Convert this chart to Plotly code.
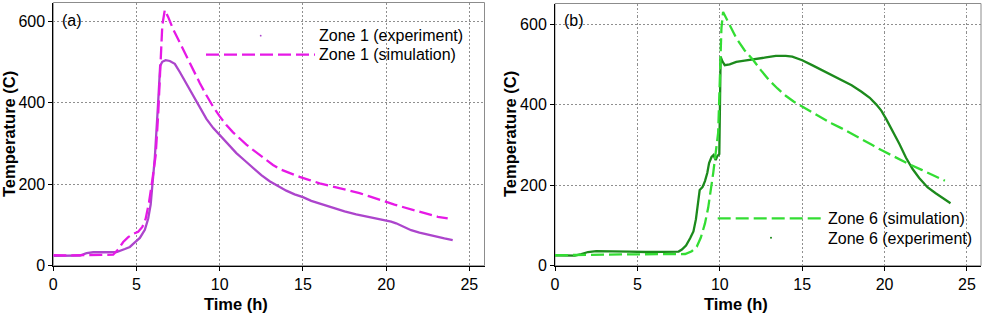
import plotly.graph_objects as go

W, H = 985, 314

# ---------------- data ----------------
# Panel (a): Zone 1
z1_exp_t = [0, 0.8, 1.6, 2.0, 2.4, 3.0, 3.8, 4.3, 4.6, 4.9, 5.2, 5.5, 5.7, 5.85, 6.0, 6.1,
            6.3, 6.42, 6.55, 6.75, 7.0, 7.3, 7.6, 8.0, 8.4, 8.8, 9.2, 9.6, 10.0, 10.5, 11.0,
            11.5, 12.0, 12.5, 13.0, 13.5, 14.0, 14.5, 15.0, 15.5, 16.0, 16.8, 17.5, 18.2,
            18.8, 19.3, 19.8, 20.3, 20.6, 21.0, 21.5, 22.0, 22.5, 23.0, 23.5, 24.0]
z1_exp_T = [24, 24, 25, 31, 33, 33, 33.5, 41, 46, 57, 68, 88, 115, 150, 215, 265,
            400, 490, 500, 504, 502, 495, 475, 447, 418, 388, 360, 338, 320, 297, 276,
            258, 240, 222, 207, 195, 184, 175, 168, 159, 152, 141, 133, 126,
            121, 116, 112, 108, 104, 96, 87, 81, 76, 71, 67, 63]

z1_sim_t = [0, 1.0, 2.0, 3.0, 3.6, 3.9, 4.2, 4.5, 4.8, 5.1, 5.35, 5.55, 5.75, 5.95, 6.15,
            6.3, 6.42, 6.55, 6.7, 6.9, 7.2, 7.6, 8.0, 8.4, 8.8, 9.2, 9.6, 10.0, 10.4, 10.8,
            11.2, 11.6, 12.0, 12.4, 12.8, 13.2, 13.6, 14.2, 14.8, 15.4, 16.0, 16.6, 17.2,
            17.8, 18.4, 19.0, 19.5, 20.0, 20.5, 21.0, 21.5, 22.0, 22.6, 23.1, 23.7]
z1_sim_T = [26, 25, 26, 26, 27, 40, 58, 70, 78, 83, 95, 115, 155, 210, 270,
            370, 490, 590, 627, 610, 580, 546, 513, 480, 448, 418, 390, 366, 345, 327,
            311, 297, 284, 271, 259, 247, 237, 227, 218, 210, 202, 196, 190,
            184, 178, 170, 163, 157, 150, 144, 138, 132, 125, 120, 116]

# Panel (b): Zone 6
z6_exp_t = [0, 0.6, 1.2, 1.6, 2.0, 2.5, 3.5, 4.5, 5.5, 6.5, 7.5, 7.7, 7.95, 8.2, 8.4, 8.55,
            8.68, 8.78, 8.95, 9.1, 9.24, 9.35, 9.5, 9.62, 9.75, 9.85, 9.97, 10.02, 10.05,
            10.15, 10.3, 10.6, 11.0, 11.5, 12.1, 12.8, 13.4, 14.0, 14.4, 15.0, 15.6, 16.2,
            16.8, 17.4, 18.0, 18.6, 19.1, 19.5, 19.8, 20.1, 20.5, 20.9, 21.3, 21.7, 22.1,
            22.6, 23.1, 23.5, 24.0]
z6_exp_T = [26, 25, 25, 29, 34, 36, 36, 35, 34, 34, 35, 40, 50, 68, 85, 115,
            160, 188, 195, 210, 230, 255, 270, 275, 262, 272, 277, 420, 519,
            508, 498, 500, 506, 509, 512, 517, 521, 521, 519, 510, 498, 485,
            473, 461, 448, 432, 417, 400, 385, 364, 334, 302, 268, 240, 218,
            195, 180, 168, 155]

z6_sim_t = [0, 1.0, 2.0, 4.0, 6.0, 7.9, 8.3, 8.6, 8.85, 9.1, 9.3, 9.45, 9.6, 9.75, 9.9,
            10.0, 10.1, 10.2, 10.5, 11.0, 11.5, 12.0, 12.5, 13.0, 13.5, 14.0, 14.5, 15.0,
            15.6, 16.2, 16.8, 17.4, 18.0, 18.6, 19.2, 19.8, 20.4, 21.0, 21.6, 22.25, 22.9,
            23.66]
z6_sim_T = [26, 26, 27, 28, 28, 29, 36, 47, 70, 105, 145, 185, 230, 280, 330,
            460, 590, 630, 605, 565, 535, 512, 485, 460, 440, 422, 407, 395,
            380, 366, 353, 341, 328, 316, 301, 287, 274, 262, 250, 238, 226,
            211]

x_ticks = [0, 5, 10, 15, 20, 25]
y_ticks = [0, 200, 400, 600]

# ---------------- styling ----------------
FONT = "Liberation Sans, Arial, sans-serif"
C1_EXP = "#AC45CC"
C1_SIM = "#E619E6"
C6_EXP = "#1C8A1C"
C6_SIM = "#33DD33"
DASH = "13px,5px"


def px(x):
    return x / W


def py(y):
    return 1 - y / H


fig = go.Figure()
fig.add_trace(go.Scatter(x=z1_exp_t, y=z1_exp_T, mode="lines", name="Zone 1 (experiment)",
                         line=dict(color=C1_EXP, width=2.3), xaxis="x", yaxis="y"))
fig.add_trace(go.Scatter(x=z1_sim_t, y=z1_sim_T, mode="lines", name="Zone 1 (simulation)",
                         line=dict(color=C1_SIM, width=2.3, dash=DASH), xaxis="x", yaxis="y"))
fig.add_trace(go.Scatter(x=z6_exp_t, y=z6_exp_T, mode="lines", name="Zone 6 (experiment)",
                         line=dict(color=C6_EXP, width=2.3), xaxis="x2", yaxis="y2"))
fig.add_trace(go.Scatter(x=z6_sim_t, y=z6_sim_T, mode="lines", name="Zone 6 (simulation)",
                         line=dict(color=C6_SIM, width=2.3, dash=DASH), xaxis="x2", yaxis="y2"))

axis_common = dict(
    showgrid=True, gridcolor="#8f8f8f", griddash="2px,2px", gridwidth=1,
    showline=True, linecolor="#000000", linewidth=1, mirror=False,
    ticks="outside", ticklen=4, tickcolor="#000000", tickwidth=1,
    tickfont=dict(family=FONT, size=16, color="#000000"),
    zeroline=False, automargin=False,
)

fig.update_layout(
    width=W, height=H,
    margin=dict(l=0, r=0, t=0, b=0),
    paper_bgcolor="white", plot_bgcolor="white",
    showlegend=False,
    xaxis=dict(domain=[px(53.3), px(484.5)], range=[0, 25.91], tickvals=x_ticks,
               anchor="y", **axis_common),
    yaxis=dict(domain=[py(265.7), py(2.5)], range=[0, 645.4], tickvals=y_ticks,
               anchor="x", **axis_common),
    xaxis2=dict(domain=[px(555), px(981)], range=[0, 25.85], tickvals=x_ticks,
                anchor="y2", **axis_common),
    yaxis2=dict(domain=[py(265.7), py(3.5)], range=[0, 651], tickvals=y_ticks,
                anchor="x2", **axis_common),
)

shapes = []
for xr, yr in (("x domain", "y domain"), ("x2 domain", "y2 domain")):
    shapes.append(dict(type="rect", xref=xr, yref=yr, x0=0, x1=1, y0=0, y1=1,
                       line=dict(color="#8c8c8c", width=1), layer="below"))

# legend samples
shapes.append(dict(type="line", xref="paper", yref="paper", x0=px(206), x1=px(315),
                   y0=py(54.7), y1=py(54.7), line=dict(color=C1_SIM, width=2.3, dash=DASH)))
shapes.append(dict(type="circle", xref="paper", yref="paper", x0=px(259.8), x1=px(261.6),
                   y0=py(34.8), y1=py(36.6), fillcolor=C1_EXP, line=dict(width=0)))
shapes.append(dict(type="line", xref="paper", yref="paper", x0=px(717.7), x1=px(825),
                   y0=py(218.3), y1=py(218.3), line=dict(color=C6_SIM, width=2.3, dash=DASH)))
shapes.append(dict(type="circle", xref="paper", yref="paper", x0=px(770), x1=px(772),
                   y0=py(236.7), y1=py(238.7), fillcolor=C6_EXP, line=dict(width=0)))
fig.update_layout(shapes=shapes)

ann_font = dict(family=FONT, size=16, color="#000000")
anns = [
    dict(text="Zone 1 (experiment)", x=px(317), y=py(35.7)),
    dict(text="Zone 1 (simulation)", x=px(317), y=py(54.7)),
    dict(text="Zone 6 (simulation)", x=px(826), y=py(218.3)),
    dict(text="Zone 6 (experiment)", x=px(826), y=py(238.3)),
    dict(text="(a)", x=px(59.5), y=py(20.5)),
    dict(text="(b)", x=px(561.5), y=py(20.5)),
]
annotations = []
for a in anns:
    annotations.append(dict(xref="paper", yref="paper", xanchor="left", yanchor="middle",
                            showarrow=False, font=ann_font, **a))
title_font = dict(family=FONT, size=16.5, color="#000000")
annotations += [
    dict(text="<b>Temperature (C)</b>", x=px(9), y=py(134), textangle=-90),
    dict(text="<b>Temperature (C)</b>", x=px(510), y=py(134), textangle=-90),
    dict(text="<b>Time (h)</b>", x=px(236), y=py(304)),
    dict(text="<b>Time (h)</b>", x=px(736), y=py(304)),
]
for a in annotations[-4:]:
    a.update(xref="paper", yref="paper", xanchor="center", yanchor="middle",
             showarrow=False, font=title_font)
fig.update_layout(annotations=annotations)

fig.write_html("out.html", config={"displayModeBar": False},
               post_script="document.body.style.margin='0';")
